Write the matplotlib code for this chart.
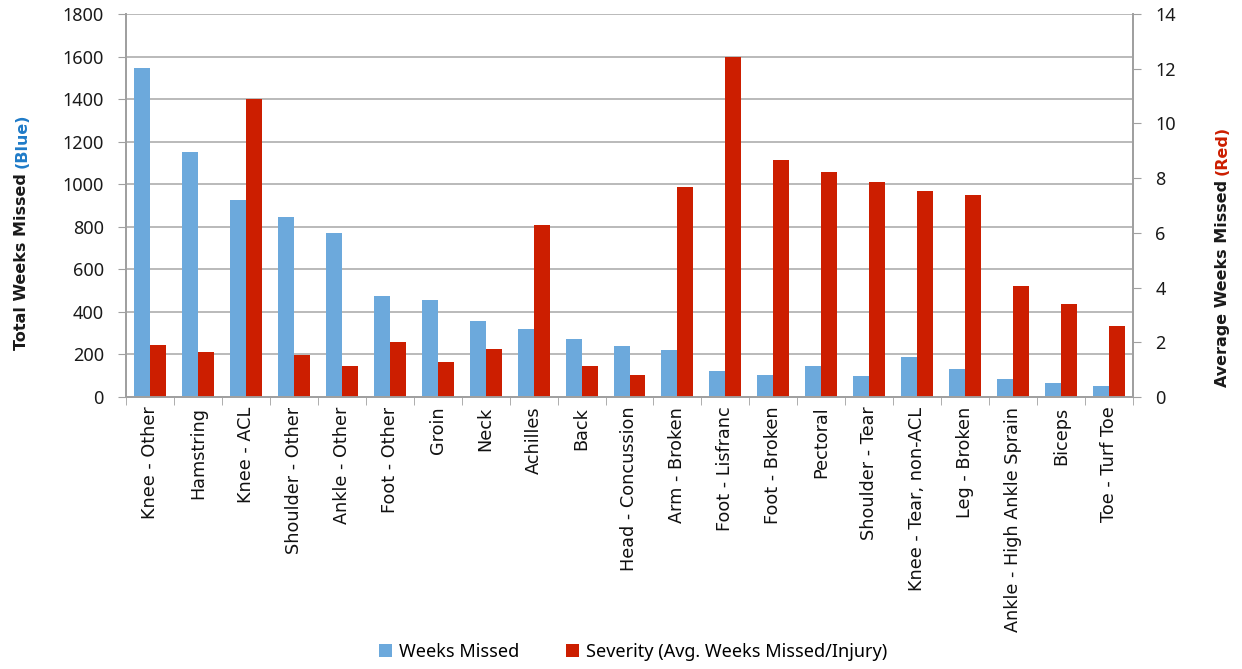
import matplotlib
matplotlib.use("Agg")
import matplotlib.pyplot as plt
import numpy as np

# injury categories, sorted by total weeks missed order used in the source chart
injuries = [
    "Knee - Other", "Hamstring", "Knee - ACL", "Shoulder - Other", "Ankle - Other",
    "Foot - Other", "Groin", "Neck", "Achilles", "Back", "Head - Concussion",
    "Arm - Broken", "Foot - Lisfranc", "Foot - Broken", "Pectoral", "Shoulder - Tear",
    "Knee - Tear, non-ACL", "Leg - Broken", "Ankle - High Ankle Sprain", "Biceps",
    "Toe - Turf Toe",
]
weeks_missed = [1545, 1150, 925, 848, 772, 474, 456, 355, 319, 272, 241,
                221, 122, 102, 146, 100, 187, 132, 83, 66, 50]
severity = [1.90, 1.65, 10.89, 1.54, 1.14, 2.01, 1.28, 1.74, 6.28, 1.15, 0.82,
            7.66, 12.41, 8.66, 8.23, 7.85, 7.52, 7.39, 4.05, 3.39, 2.59]
left_ticks = list(range(0, 1801, 200))
right_ticks = list(range(0, 15, 2))

BLUE = "#6CA9DC"
RED = "#CC1E00"
GRID = "#B4B4B4"
SPINE = "#A0A0A0"

W, H = 1242, 669
fig = plt.figure(figsize=(W / 100, H / 100), dpi=100)
ax = fig.add_axes([126 / W, 1 - 397 / H, (1133 - 126) / W, (397 - 14) / H])
ax2 = ax.twinx()

x = np.arange(len(injuries))
bw = 1 / 3
b1 = ax.bar(x - bw / 2, weeks_missed, width=bw, color=BLUE, linewidth=0,
            label="Weeks Missed")
b2 = ax2.bar(x + bw / 2, severity, width=bw, color=RED, linewidth=0,
             label="Severity (Avg. Weeks Missed/Injury)")

ax.set_xlim(-0.5, len(injuries) - 0.5)
ax.set_ylim(0, 1800)
ax.set_yticks(left_ticks)
ax2.set_ylim(0, 14)
ax2.set_yticks(right_ticks)

ax.set_axisbelow(True)
ax.yaxis.grid(True, color=GRID, linewidth=1.3)
ax.xaxis.grid(False)

num_font = dict(family="Noto Sans", size=13, color="#1a1a1a")
ax.set_yticklabels([str(v) for v in left_ticks], **num_font)
ax2.set_yticklabels([str(v) for v in right_ticks], **num_font)
ax.tick_params(axis="y", length=6, color=SPINE, pad=10)
ax2.tick_params(axis="y", length=6, color=SPINE, pad=10)

# category labels at centres, tick marks at boundaries
ax.set_xticks(x)
ax.set_xticklabels(injuries, rotation=90, family="DejaVu Sans", size=12.7,
                   color="#111111")
ax.tick_params(axis="x", which="major", length=0, pad=7)
ax.set_xticks(np.arange(-0.5, len(injuries), 1), minor=True)
ax.tick_params(axis="x", which="minor", length=6, color=SPINE)

for a in (ax, ax2):
    a.spines["top"].set_visible(False)
    for s in ("left", "right", "bottom"):
        a.spines[s].set_color(SPINE)
        a.spines[s].set_linewidth(1.3)

# two-coloured axis titles
renderer = fig.canvas.get_renderer()
lab_font = dict(family="DejaVu Sans", size=11.5, weight="bold", rotation=90,
                ha="center", va="bottom")


def two_part_label(xpix, ybottom_pix, first, second, color2):
    t1 = fig.text(xpix / W, 1 - ybottom_pix / H, first, color="#1a1a1a", **lab_font)
    ext = t1.get_window_extent(renderer=renderer)
    fig.text(xpix / W, (ext.y1 + 5) / H, second, color=color2, **lab_font)


two_part_label(22, 350, "Total Weeks Missed", "(Blue)", "#1F7BC8")
two_part_label(1222, 387, "Average Weeks Missed", "(Red)", RED)

fig.legend(handles=[b1, b2], loc="center", bbox_to_anchor=(0.51, 1 - 652 / H),
           ncol=2, frameon=False, handlelength=0.7, handleheight=0.7,
           handletextpad=0.4, columnspacing=2.6,
           prop=dict(family="Noto Sans", size=13))

fig.savefig("out.png", dpi=100)
